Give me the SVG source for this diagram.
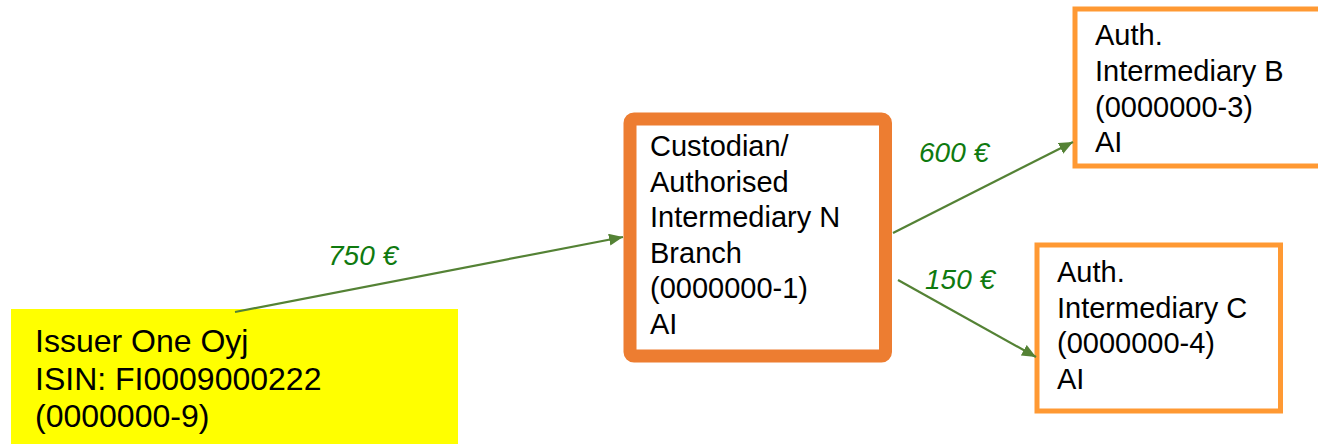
<svg xmlns="http://www.w3.org/2000/svg" width="1318" height="444" viewBox="0 0 1318 444">
  <style>
    .t { font-family: "Liberation Sans", Arial, sans-serif; font-size: 29px; fill: #000; }
    .big { font-size: 32px; }
    .lbl { font-family: "Liberation Sans", Arial, sans-serif; font-size: 28px; font-style: italic; fill: #0F7A0F; }
    .conn { stroke: #548235; stroke-width: 2.2; fill: none; marker-end: url(#ah); }
    .side { fill: #fff; stroke: #FF9933; stroke-width: 5; }
  </style>
  <defs>
    <marker id="ah" viewBox="0 0 14 12" refX="14" refY="6" markerWidth="14" markerHeight="12" markerUnits="userSpaceOnUse" orient="auto">
      <path d="M0,0 L14,6 L0,12 z" fill="#548235"/>
    </marker>
  </defs>
  <rect width="1318" height="444" fill="#fff"/>

  <g id="issuer">
    <rect x="11" y="309" width="447" height="140" fill="#FFFF00"/>
    <text class="t big" x="35" y="352">Issuer One Oyj</text>
    <text class="t big" x="35" y="389.5">ISIN: FI0009000222</text>
    <text class="t big" x="35" y="427">(0000000-9)</text>
  </g>

  <g id="custodian">
    <rect x="630" y="119" width="255.5" height="237" rx="4" fill="#fff" stroke="#ED7D31" stroke-width="13"/>
    <text class="t" x="650" y="156">Custodian/</text>
    <text class="t" x="650" y="191.5">Authorised</text>
    <text class="t" x="650" y="227">Intermediary N</text>
    <text class="t" x="650" y="262.5">Branch</text>
    <text class="t" x="650" y="298">(0000000-1)</text>
    <text class="t" x="650" y="333.5">AI</text>
  </g>

  <g id="intermediaryB">
    <rect class="side" x="1075" y="9" width="260" height="157"/>
    <text class="t" x="1095" y="45">Auth.</text>
    <text class="t" x="1095" y="81">Intermediary B</text>
    <text class="t" x="1095" y="116.5">(0000000-3)</text>
    <text class="t" x="1095" y="152">AI</text>
  </g>

  <g id="intermediaryC">
    <rect class="side" x="1037" y="245" width="243.5" height="166"/>
    <text class="t" x="1057" y="282">Auth.</text>
    <text class="t" x="1057" y="317.5">Intermediary C</text>
    <text class="t" x="1057" y="353">(0000000-4)</text>
    <text class="t" x="1057" y="388.5">AI</text>
  </g>

  <g id="connectors">
    <path class="conn" d="M235,312 L623,237"/>
    <path class="conn" d="M893,233 L1073,142"/>
    <path class="conn" d="M898,280 L1036,357"/>
    <text class="lbl" x="328" y="265">750 €</text>
    <text class="lbl" x="919" y="162">600 €</text>
    <text class="lbl" x="925" y="289">150 €</text>
  </g>
</svg>
